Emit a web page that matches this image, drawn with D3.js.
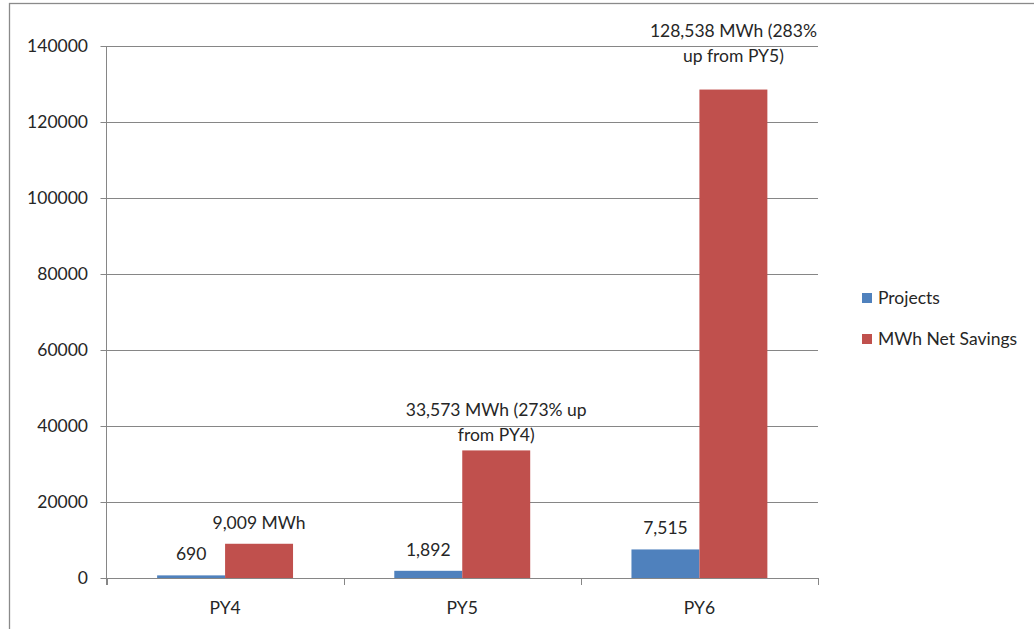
<!DOCTYPE html>
<html>
<head>
<meta charset="utf-8">
<script src="https://cdn.jsdelivr.net/npm/d3@7"></script>
<style>
  html, body { margin: 0; padding: 0; background: #fff; }
  svg { display: block; }
  text { font-family: Lato, "Open Sans", sans-serif; fill: #262626; }
</style>
</head>
<body>
<svg id="chart" width="1034" height="629"></svg>
<script>
// Program years on the category axis
const years = ["PY4", "PY5", "PY6"];
// Series values
const projects = [690, 1892, 7515];
const netSavings = [9009, 33573, 128538];
// Value labels printed above the bars (one entry per line)
const projectLabels = [["690"], ["1,892"], ["7,515"]];
const savingsLabels = [
  ["9,009 MWh"],
  ["33,573 MWh (273% up", "from PY4)"],
  ["128,538 MWh (283%", "up from PY5)"]
];
const seriesNames = ["Projects", "MWh Net Savings"];
const yTicks = [0, 20000, 40000, 60000, 80000, 100000, 120000, 140000];

const colors = ["#4F81BD", "#C0504D"];
const gridColor = "#868686";

const svg = d3.select("#chart");

// outer frame of the chart object
svg.append("rect")
  .attr("x", 9.5).attr("y", 3.5)
  .attr("width", 1100).attr("height", 700)
  .attr("fill", "none").attr("stroke", "#8a8a8a").attr("stroke-width", 1.3);

const plot = { left: 106.5, right: 818, top: 46, bottom: 578 };

const x = d3.scaleBand().domain(years).range([plot.left, plot.right]).paddingInner(0).paddingOuter(0);
const y = d3.scaleLinear().domain([0, 140000]).range([plot.bottom, plot.top]);
const inner = d3.scaleBand().domain([0, 1]).range([0, x.bandwidth()]).paddingInner(0).paddingOuter(0.745);

// horizontal gridlines with tick stubs
svg.append("g").selectAll("line").data(yTicks).join("line")
  .attr("x1", plot.left - 6).attr("x2", plot.right)
  .attr("y1", d => Math.round(y(d)) + 0.5).attr("y2", d => Math.round(y(d)) + 0.5)
  .attr("stroke", gridColor).attr("stroke-width", 1);

// y tick labels
svg.append("g").selectAll("text").data(yTicks).join("text")
  .attr("x", 88).attr("y", d => y(d))
  .attr("dy", "0.36em")
  .attr("text-anchor", "end")
  .attr("font-size", 17.5)
  .text(d => d);

// bars
const series = [projects, netSavings];
series.forEach((vals, s) => {
  svg.append("g").selectAll("rect").data(vals).join("rect")
    .attr("x", (d, i) => x(years[i]) + inner(s))
    .attr("y", d => y(d))
    .attr("width", inner.bandwidth())
    .attr("height", d => y(0) - y(d))
    .attr("fill", colors[s]);
});

// value axis line
svg.append("line")
  .attr("x1", plot.left).attr("x2", plot.left)
  .attr("y1", plot.top).attr("y2", plot.bottom + 7)
  .attr("stroke", gridColor).attr("stroke-width", 1);

// category axis with boundary ticks
svg.append("line")
  .attr("x1", plot.left).attr("x2", plot.right)
  .attr("y1", plot.bottom + 0.5).attr("y2", plot.bottom + 0.5)
  .attr("stroke", gridColor).attr("stroke-width", 1);
const boundaries = years.map(d => x(d)).concat([plot.right]);
svg.append("g").selectAll("line").data(boundaries).join("line")
  .attr("x1", d => Math.round(d) + 0.5).attr("x2", d => Math.round(d) + 0.5)
  .attr("y1", plot.bottom).attr("y2", plot.bottom + 7)
  .attr("stroke", gridColor).attr("stroke-width", 1);

svg.append("g").selectAll("text").data(years).join("text")
  .attr("x", d => x(d) + x.bandwidth() / 2)
  .attr("y", 614)
  .attr("text-anchor", "middle")
  .attr("font-size", 17.5)
  .text(d => d);

// value labels; the savings labels sit at hand-set heights above their bars
const lineGap = 25;
const savingsLift = [15, 9, 28];
const projectLift = [15, 15, 15];
function drawLabels(vals, labels, lift, s) {
  vals.forEach((v, i) => {
    const cx = x(years[i]) + inner(s) + inner.bandwidth() / 2;
    const lines = labels[i];
    const base = y(v) - lift[i];
    lines.forEach((t, k) => {
      svg.append("text")
        .attr("x", cx)
        .attr("y", base - (lines.length - 1 - k) * lineGap)
        .attr("text-anchor", "middle")
        .attr("font-size", 17.5)
        .text(t);
    });
  });
}
drawLabels(projects, projectLabels, projectLift, 0);
drawLabels(netSavings, savingsLabels, savingsLift, 1);

// legend
const legend = svg.append("g").attr("transform", "translate(862,298)");
seriesNames.forEach((name, i) => {
  const g = legend.append("g").attr("transform", `translate(0,${i * 41})`);
  g.append("rect").attr("x", 0).attr("y", -5).attr("width", 10).attr("height", 10).attr("fill", colors[i]);
  g.append("text").attr("x", 16).attr("y", 0).attr("dy", "0.36em").attr("font-size", 17.5).text(name);
});
</script>
</body>
</html>
